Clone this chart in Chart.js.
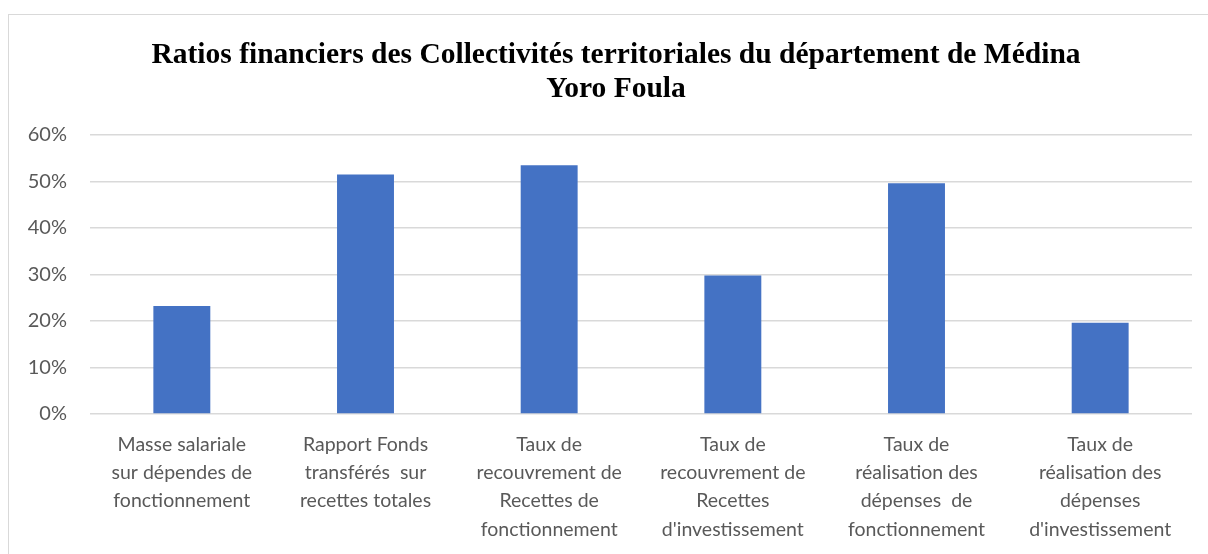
<!DOCTYPE html>
<html>
<head>
<meta charset="utf-8">
<script src="https://cdn.jsdelivr.net/npm/chart.js@4"></script>
<style>
  html, body { margin: 0; padding: 0; background: #fff; }
  #wrap { position: relative; width: 1208px; height: 554px; }
  #frame { position: absolute; left: 8px; top: 14px; right: -10px; bottom: -10px; border-left: 1px solid #d9d9d9; border-top: 1px solid #d9d9d9; pointer-events: none; }
  canvas { position: absolute; left: 0; top: 0; }
</style>
</head>
<body>
<div id="wrap">
  <canvas id="c" width="1208" height="554"></canvas>
  <div id="frame"></div>
</div>
<script>
const titleLines = [
  "Ratios financiers des Collectivités territoriales du département de Médina",
  "Yoro Foula"
];
const categories = [
  ["Masse salariale", "sur dépendes de", "fonctionnement"],
  ["Rapport Fonds", "transférés  sur", "recettes totales"],
  ["Taux de", "recouvrement de", "Recettes de", "fonctionnement"],
  ["Taux de", "recouvrement de", "Recettes", "d'investissement"],
  ["Taux de", "réalisation des", "dépenses  de", "fonctionnement"],
  ["Taux de", "réalisation des", "dépenses", "d'investissement"]
];
const values = [0.232, 0.515, 0.535, 0.298, 0.496, 0.196];
const yTicks = [0, 0.1, 0.2, 0.3, 0.4, 0.5, 0.6];

const titlePlugin = {
  id: 'customTitle',
  afterDraw(chart) {
    const ctx = chart.ctx;
    ctx.save();
    ctx.fillStyle = '#000';
    ctx.font = 'bold 29.5px "Liberation Serif", "Times New Roman", serif';
    ctx.textAlign = 'center';
    ctx.textBaseline = 'alphabetic';
    ctx.fillText(titleLines[0], 616, 63);
    ctx.fillText(titleLines[1], 616, 97);
    ctx.restore();
  }
};

new Chart(document.getElementById('c'), {
  type: 'bar',
  data: {
    labels: categories,
    datasets: [{
      data: values,
      backgroundColor: '#4472C4',
      borderWidth: 0,
      categoryPercentage: 1,
      barPercentage: 0.31
    }]
  },
  options: {
    responsive: false,
    animation: false,
    layout: { padding: { top: 135, right: 16, left: 0, bottom: 0 } },
    plugins: { legend: { display: false }, title: { display: false }, tooltip: { enabled: false } },
    scales: {
      x: {
        grid: { display: false, drawTicks: false },
        border: { display: false },
        afterFit(s) { s.height = 140; },
        ticks: {
          color: '#595959',
          font: { family: 'Lato', size: 19.5, lineHeight: 1.46 },
          padding: 16,
          maxRotation: 0,
          autoSkip: false
        }
      },
      y: {
        min: 0, max: 0.6,
        afterFit(s) { s.width = 90; },
        afterBuildTicks(s) { s.ticks = yTicks.map(v => ({ value: v })); },
        grid: { color: '#d9d9d9', lineWidth: 1.5, drawTicks: false },
        border: { display: false },
        ticks: {
          color: '#595959',
          font: { family: 'Lato', size: 20 },
          padding: 23,
          callback: v => Math.round(v * 100) + '%'
        }
      }
    }
  },
  plugins: [titlePlugin]
});
</script>
</body>
</html>
